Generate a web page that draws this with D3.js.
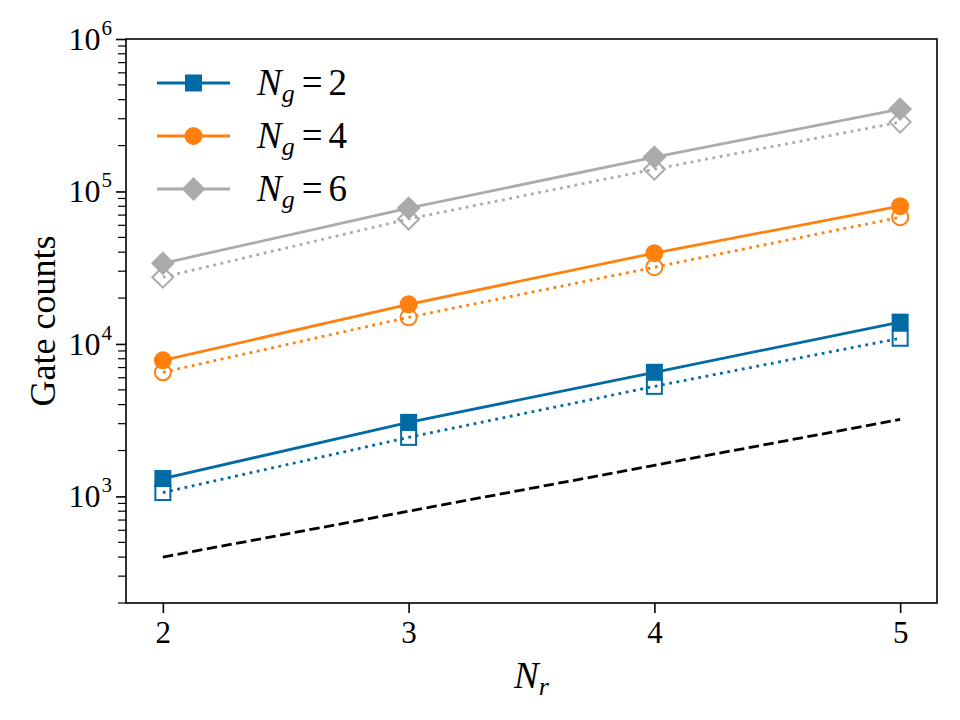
<!DOCTYPE html>
<html>
<head>
<meta charset="utf-8">
<script src="https://cdn.jsdelivr.net/npm/d3@7"></script>
<style>
  body { margin: 0; background: #fff; }
</style>
</head>
<body>
<div id="chart"></div>
<script>
// data
const nr = [2, 3, 4, 5];
const ng2 = [1310, 3060, 6520, 13900];
const ng2Open = [1060, 2440, 5270, 10900];
const ng4 = [7810, 18200, 39400, 80100];
const ng4Open = [6520, 14960, 31850, 67800];
const ng6 = [33800, 77800, 168000, 347000];
const ng6Open = [27400, 66000, 140000, 285000];
const reference = [400, 800, 1600, 3200];
const xTicks = [2, 3, 4, 5];
const yTickExp = [3, 4, 5, 6];
const legendLabels = ["2", "4", "6"];

const W = 960, H = 720;
const margin = { top: 39, right: 23, bottom: 117, left: 126 };
const FONT = "Liberation Serif";

const svg = d3.select("#chart")
  .append("svg")
  .attr("width", W)
  .attr("height", H)
  .attr("font-family", FONT);

const x = d3.scaleLinear()
  .domain([1.85, 5.15])
  .range([margin.left, W - margin.right]);

const y = d3.scaleLog()
  .domain([200, 1e6])
  .range([H - margin.bottom, margin.top]);

const colors = ["#006BA4", "#FF800E", "#ABABAB"];
const shapes = ["square", "circle", "diamond"];

// axes
const xAxis = svg.append("g")
  .attr("transform", `translate(0,${H - margin.bottom})`)
  .call(d3.axisBottom(x).tickValues(xTicks).tickSize(10).tickPadding(8).tickFormat(d3.format("d")));
xAxis.attr("font-family", FONT).attr("font-size", 31);
xAxis.select(".domain").remove();
xAxis.selectAll("line").attr("stroke-width", 1.6);
xAxis.selectAll("text").attr("font-family", FONT).attr("font-size", 31);

// minor y ticks
const minor = [];
for (let e = 2; e < 6; e++) {
  for (let m = 2; m <= 9; m++) {
    const v = m * Math.pow(10, e);
    if (v >= 200 && v <= 1e6) minor.push(v);
  }
}
svg.append("g")
  .selectAll("line")
  .data(minor)
  .join("line")
  .attr("x1", margin.left - 8)
  .attr("x2", margin.left)
  .attr("y1", d => y(d))
  .attr("y2", d => y(d))
  .attr("stroke", "#000")
  .attr("stroke-width", 1.2);

const yAxis = svg.append("g")
  .attr("transform", `translate(${margin.left},0)`)
  .call(d3.axisLeft(y).tickValues(yTickExp.map(e => Math.pow(10, e))).tickSize(10).tickFormat(""));
yAxis.select(".domain").remove();
yAxis.selectAll("line").attr("stroke-width", 1.6);

// y tick labels with superscript exponent
const yLab = svg.append("g")
  .selectAll("text")
  .data(yTickExp)
  .join("text")
  .attr("x", 112)
  .attr("y", d => y(Math.pow(10, d)) + 11)
  .attr("text-anchor", "end")
  .attr("font-family", FONT)
  .attr("font-size", 32);
yLab.append("tspan").text("10");
yLab.append("tspan")
  .attr("font-size", 21)
  .attr("dx", 1)
  .attr("dy", -15)
  .text(d => d);

// frame
svg.append("rect")
  .attr("x", margin.left)
  .attr("y", margin.top)
  .attr("width", W - margin.left - margin.right)
  .attr("height", H - margin.top - margin.bottom)
  .attr("fill", "none")
  .attr("stroke", "#000")
  .attr("stroke-width", 1.6);

// axis labels
svg.append("text")
  .attr("transform", `translate(55,${(margin.top + H - margin.bottom) / 2}) rotate(-90)`)
  .attr("text-anchor", "middle")
  .attr("font-family", FONT)
  .attr("font-size", 36)
  .text("Gate counts");

const xl = svg.append("text")
  .attr("x", (margin.left + W - margin.right) / 2)
  .attr("y", 688)
  .attr("text-anchor", "middle")
  .attr("font-family", FONT)
  .attr("font-size", 37)
  .attr("font-style", "italic");
xl.append("tspan").text("N");
xl.append("tspan").attr("font-size", 26).attr("dy", 7).text("r");

const line = d3.line().x((d, i) => x(nr[i])).y(d => y(d));

function marker(sel, shape, color, filled, cx, cy) {
  const fill = filled ? color : "none";
  if (shape === "square") {
    sel.append("rect")
      .attr("x", cx - 7.5).attr("y", cy - 7.5)
      .attr("width", 15).attr("height", 15)
      .attr("fill", fill).attr("stroke", color).attr("stroke-width", 2);
  } else if (shape === "circle") {
    sel.append("circle")
      .attr("cx", cx).attr("cy", cy).attr("r", 8)
      .attr("fill", fill).attr("stroke", color).attr("stroke-width", 2);
  } else {
    const r = 10.5;
    sel.append("path")
      .attr("d", `M${cx},${cy - r}L${cx + r},${cy}L${cx},${cy + r}L${cx - r},${cy}Z`)
      .attr("fill", fill).attr("stroke", color).attr("stroke-width", 2);
  }
}

const plot = svg.append("g");

// reference dashed line
plot.append("path")
  .attr("d", line(reference))
  .attr("fill", "none")
  .attr("stroke", "#000")
  .attr("stroke-width", 2.8)
  .attr("stroke-dasharray", "10.4,4.5");

const openSeries = [ng2Open, ng4Open, ng6Open];
const filledSeries = [ng2, ng4, ng6];

openSeries.forEach((s, k) => {
  plot.append("path")
    .attr("d", line(s))
    .attr("fill", "none")
    .attr("stroke", colors[k])
    .attr("stroke-width", 2.8)
    .attr("stroke-dasharray", "2.8,4.6");
  s.forEach((v, i) => marker(plot, shapes[k], colors[k], false, x(nr[i]), y(v)));
});

filledSeries.forEach((s, k) => {
  plot.append("path")
    .attr("d", line(s))
    .attr("fill", "none")
    .attr("stroke", colors[k])
    .attr("stroke-width", 2.8);
  s.forEach((v, i) => marker(plot, shapes[k], colors[k], true, x(nr[i]), y(v)));
});

// legend
const legend = svg.append("g");
legendLabels.forEach((lab, k) => {
  const ly = 83 + k * 53;
  legend.append("line")
    .attr("x1", 157).attr("x2", 230)
    .attr("y1", ly).attr("y2", ly)
    .attr("stroke", colors[k]).attr("stroke-width", 2.8);
  marker(legend, shapes[k], colors[k], true, 193.5, ly);
  const t = legend.append("text")
    .attr("x", 257)
    .attr("y", ly + 12)
    .attr("font-family", FONT)
    .attr("font-size", 37);
  t.append("tspan").attr("font-style", "italic").text("N");
  t.append("tspan").attr("font-style", "italic").attr("font-size", 26).attr("dy", 7).text("g");
  t.append("tspan").attr("dy", -7).attr("dx", 7).text("=");
  t.append("tspan").attr("dx", 6).text(lab);
});
</script>
</body>
</html>
